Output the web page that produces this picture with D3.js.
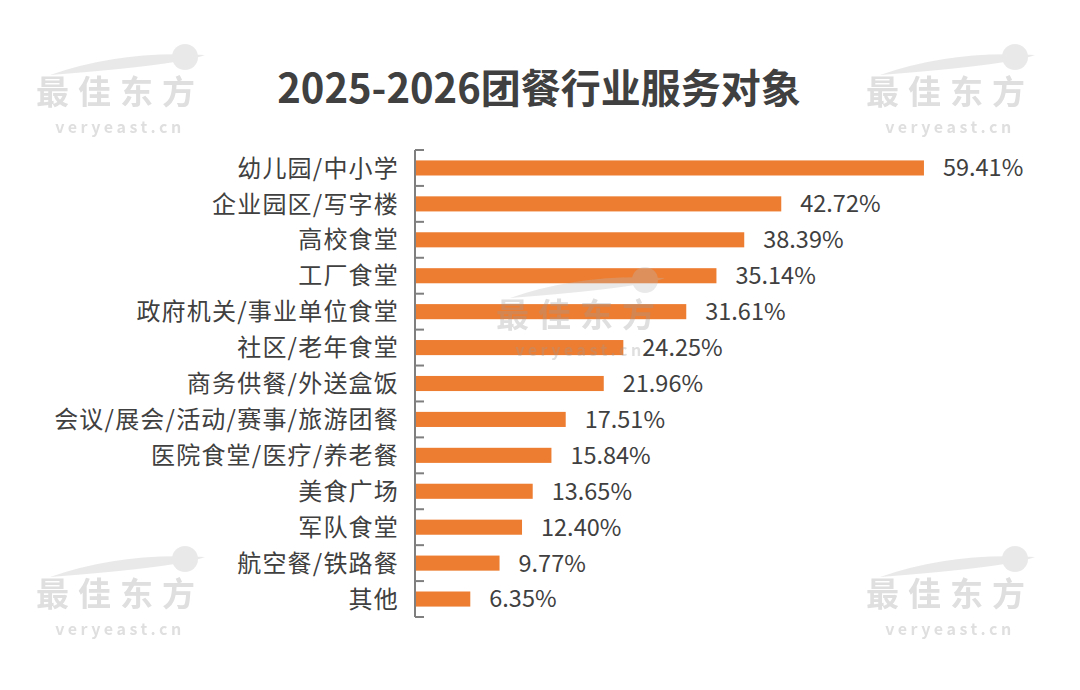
<!DOCTYPE html>
<html>
<head>
<meta charset="utf-8">
<script src="https://cdn.jsdelivr.net/npm/d3@7"></script>
<style>
  body { margin: 0; background: #fff; }
  svg text { font-family: "Noto Sans CJK SC", "Noto Sans", sans-serif; }
</style>
</head>
<body>
<svg id="chart" width="1080" height="690"></svg>
<script>
const title = '2025-2026团餐行业服务对象';
const categories = [
  '幼儿园/中小学', '企业园区/写字楼', '高校食堂', '工厂食堂', '政府机关/事业单位食堂',
  '社区/老年食堂', '商务供餐/外送盒饭', '会议/展会/活动/赛事/旅游团餐',
  '医院食堂/医疗/养老餐', '美食广场', '军队食堂', '航空餐/铁路餐', '其他'
];
const values = [59.41, 42.72, 38.39, 35.14, 31.61, 24.25, 21.96, 17.51, 15.84, 13.65, 12.40, 9.77, 6.35];

const c = {
  width: 1080, height: 690,
  left: 416, top: 150, bottom: 617,
  pxPerUnit: 8.55,
  bar: '#ED7D31', axis: '#7F7F7F', text: '#404040'
};

const svg = d3.select('#chart');

// title
svg.append('text')
  .attr('x', 539).attr('y', 103)
  .attr('text-anchor', 'middle')
  .attr('font-size', 40).attr('font-weight', 'bold')
  .attr('fill', '#404040')
  .text(title);

const y = d3.scaleBand(categories, [c.top, c.bottom]).paddingInner(0.58).paddingOuter(0.29);
const x = d3.scaleLinear([0, 60], [c.left, c.left + 60 * c.pxPerUnit]);

// bars
svg.append('g')
  .selectAll('rect')
  .data(values)
  .join('rect')
  .attr('x', x(0))
  .attr('y', (d, i) => y(categories[i]))
  .attr('width', (d) => x(d) - x(0))
  .attr('height', y.bandwidth())
  .attr('fill', c.bar);

// value labels
svg.append('g')
  .selectAll('text')
  .data(values)
  .join('text')
  .attr('x', (d) => x(d) + 19)
  .attr('y', (d, i) => y(categories[i]) + y.bandwidth() / 2)
  .attr('dy', '0.36em')
  .attr('font-size', 23.5)
  .attr('fill', c.text)
  .text((d) => d.toFixed(2) + '%');

// category axis
const boundaries = d3.range(categories.length + 1).map((i) => c.top + i * (c.bottom - c.top) / categories.length);
const axisG = svg.append('g');
axisG.append('line')
  .attr('x1', c.left - 1).attr('x2', c.left - 1)
  .attr('y1', c.top).attr('y2', c.bottom)
  .attr('stroke', c.axis).attr('stroke-width', 2);
axisG.selectAll('line.tick')
  .data(boundaries)
  .join('line')
  .classed('tick', true)
  .attr('x1', c.left - 1).attr('x2', c.left + 8)
  .attr('y1', (d) => d).attr('y2', (d) => d)
  .attr('stroke', c.axis).attr('stroke-width', 2);

axisG.selectAll('text')
  .data(categories)
  .join('text')
  .attr('x', c.left - 17)
  .attr('y', (d) => y(d) + y.bandwidth() / 2)
  .attr('dy', '0.36em')
  .attr('text-anchor', 'end')
  .attr('font-size', 24)
  .attr('letter-spacing', 1.2)
  .attr('fill', c.text)
  .text((d) => d);

// watermarks
const marks = [[120, 95], [950, 95], [120, 597], [950, 597], [580, 318]];
const wm = svg.append('g').attr('opacity', 0.32).attr('pointer-events', 'none');
marks.forEach(([cx, cy]) => {
  const g = wm.append('g').attr('transform', `translate(${cx},${cy})`);
  g.append('path')
    .attr('d', 'M-70,-20 Q0,-45 85,-40 Q60,-30 -70,-20 Z')
    .attr('fill', '#bbb');
  g.append('circle').attr('cx', 65).attr('cy', -38).attr('r', 13).attr('fill', '#bbb');
  g.append('text')
    .attr('x', 0).attr('y', 9)
    .attr('text-anchor', 'middle')
    .attr('font-size', 33).attr('font-weight', 'bold')
    .attr('letter-spacing', 9)
    .attr('fill', '#999')
    .text('最佳东方');
  g.append('text')
    .attr('x', 0).attr('y', 38)
    .attr('text-anchor', 'middle')
    .attr('font-size', 16).attr('font-weight', 'bold')
    .attr('letter-spacing', 3.5)
    .attr('fill', '#999')
    .text('veryeast.cn');
});
</script>
</body>
</html>
